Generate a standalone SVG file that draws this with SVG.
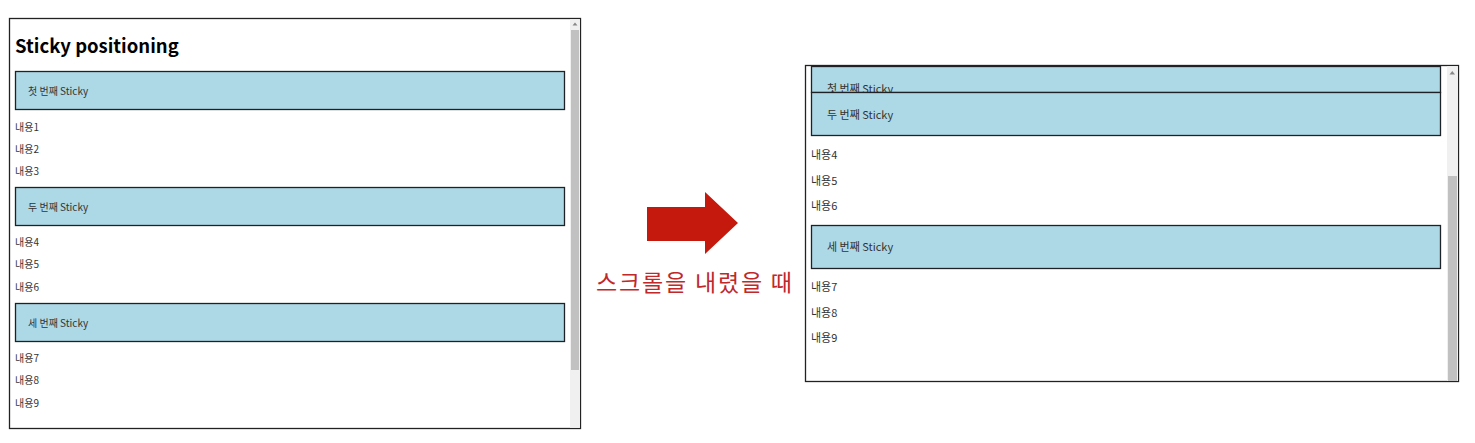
<svg xmlns="http://www.w3.org/2000/svg" width="1475" height="443" viewBox="0 0 1475 443">
<style>
.frame{fill:#fff;stroke:#222;stroke-width:1.3}
.track{fill:#f0f0f0}
.thumb{fill:#c1c1c1}
.sticky{fill:#add8e6;stroke:#1e2226;stroke-width:1.3}
.t{font-family:"Noto Sans CJK KR","Noto Sans",sans-serif;fill:#333}
.s{font-size:10px}
.l{font-size:11px}
.h{font-family:"Noto Sans CJK KR","Noto Sans",sans-serif;font-weight:bold;font-size:18.5px;fill:#000}
.cap{font-family:"Noto Sans CJK KR",sans-serif;font-size:23px;fill:#c0282a}
.arr{fill:#c4190c}
.tri{fill:#888}
</style>
<rect width="1475" height="443" fill="#fff"/>
<g id="before">
<rect class="frame" x="9.5" y="18.5" width="571" height="410"/>
<rect class="track" x="570" y="19.2" width="10" height="408.6"/>
<rect class="thumb" x="571" y="30" width="8" height="340"/>
<path class="tri" d="M572.5 25.5 L575 22.5 L577.5 25.5 Z"/>
<text class="h" x="15" y="53">Sticky positioning</text>
<g id="l-sticky1"><rect class="sticky" x="15.5" y="71.5" width="549" height="38"/><text class="t s" x="28" y="95">첫 번째 Sticky</text></g>
<text class="t s" x="15" y="131">내용1</text>
<text class="t s" x="15" y="153">내용2</text>
<text class="t s" x="15" y="175">내용3</text>
<g id="l-sticky2"><rect class="sticky" x="15.5" y="187.5" width="549" height="38"/><text class="t s" x="28" y="211">두 번째 Sticky</text></g>
<text class="t s" x="15" y="246">내용4</text>
<text class="t s" x="15" y="268">내용5</text>
<text class="t s" x="15" y="291">내용6</text>
<g id="l-sticky3"><rect class="sticky" x="15.5" y="303.5" width="549" height="38"/><text class="t s" x="28" y="327">세 번째 Sticky</text></g>
<text class="t s" x="15" y="362">내용7</text>
<text class="t s" x="15" y="384">내용8</text>
<text class="t s" x="15" y="407">내용9</text>
</g>
<g id="connectors">
<path class="arr" d="M647 207 H705 V192 L738 223 L705 254 V241 H647 Z"/>
<text class="cap" x="596" y="291" textLength="196" lengthAdjust="spacing">스크롤을 내렸을 때</text>
</g>
<g id="after">
<rect class="frame" x="805.5" y="65.5" width="653" height="316"/>
<rect class="track" x="1447" y="66.2" width="11" height="314.6"/>
<rect class="thumb" x="1448" y="176" width="9" height="205"/>
<path class="tri" d="M1449.5 74.5 L1452.3 71 L1455 74.5 Z"/>
<g id="r-sticky1"><rect class="sticky" x="811.5" y="66.5" width="629" height="26"/><text class="t l" x="827" y="93">첫 번째 Sticky</text></g>
<g id="r-sticky2"><rect class="sticky" x="811.5" y="92.5" width="629" height="43"/><text class="t l" x="827" y="119">두 번째 Sticky</text></g>
<text class="t l" x="811" y="159">내용4</text>
<text class="t l" x="811" y="185">내용5</text>
<text class="t l" x="811" y="210">내용6</text>
<g id="r-sticky3"><rect class="sticky" x="811.5" y="225.5" width="629" height="43"/><text class="t l" x="827" y="251">세 번째 Sticky</text></g>
<text class="t l" x="811" y="291">내용7</text>
<text class="t l" x="811" y="317">내용8</text>
<text class="t l" x="811" y="342">내용9</text>
</g>
</svg>
